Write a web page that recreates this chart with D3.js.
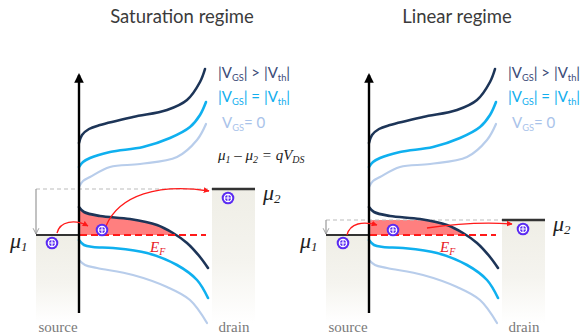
<!DOCTYPE html>
<html>
<head>
<meta charset="utf-8">
<script src="https://cdn.jsdelivr.net/npm/d3@7"></script>
<style>
  body { margin: 0; background: #fff; }
  svg { display: block; }
</style>
</head>
<body>
<svg id="chart" width="585" height="335"></svg>
<script>
// panel titles
const titles = ['Saturation regime', 'Linear regime'];

// band edges: [position along channel, energy above mu1]
const darkUpper = [[0, 92], [3, 100], [10, 106], [21, 110], [54, 118], [88, 125], [108, 135], [121, 153], [126, 166]];
const cyanUpper = [[0, 68], [4, 73], [11, 77], [31, 83], [64, 88], [91, 97], [111, 108], [121, 120], [127, 133]];
const lightUpper = [[0, 48], [4, 54], [11, 58], [31, 68], [61, 71], [98, 78], [118, 95], [127, 111]];
const darkLower = [[0, 28], [5, 23], [21, 19], [51, 16], [78, 10], [94, 2], [108, -8], [121, -22], [129, -33]];
const cyanLower = [[0, -5], [5, -10], [14, -12], [34, -13], [68, -18], [98, -30], [118, -45], [129, -63]];
const lightLower = [[0, -25], [6, -30], [18, -33], [54, -40], [88, -52], [111, -65], [128, -88]];

// drain level mu2 for each panel (mu1 = 0)
const muLevels = [46, 15];

// hole paths (cubic control points) and hole positions per panel
const sourceArrows = [[[-22, 2], [-19, 14], [-4, 16], [9, 9]], [[-22, 0], [-19, 12], [-6, 14], [8, 10]]];
const channelArrows = [[[27, 9], [40, 40], [80, 52], [130, 44]], [[58, 7], [85, 11], [115, 13], [143, 11]]];
const holes = [[[-27, -8], [23, 5], [149, 37]], [[-26, -8], [24, 5], [154, 6]]];

const svg = d3.select('#chart');
const y = d3.scaleLinear().domain([-80, 160]).range([315, 75]);

const defs = svg.append('defs');
const grad = defs.append('linearGradient').attr('id', 'contact')
  .attr('x1', 0).attr('y1', 0).attr('x2', 0).attr('y2', 1);
grad.append('stop').attr('offset', '0%').attr('stop-color', '#efeee6');
grad.append('stop').attr('offset', '55%').attr('stop-color', '#f5f4ef');
grad.append('stop').attr('offset', '100%').attr('stop-color', '#ffffff');

defs.append('marker').attr('id', 'redhead')
  .attr('viewBox', '0 0 10 10').attr('refX', 9).attr('refY', 5)
  .attr('markerWidth', 4.5).attr('markerHeight', 4.5).attr('orient', 'auto')
  .append('path').attr('d', 'M0,0L10,5L0,10z').attr('fill', '#ff1a1a');
defs.append('marker').attr('id', 'grayhead')
  .attr('viewBox', '0 0 10 10').attr('refX', 9).attr('refY', 5)
  .attr('markerWidth', 6).attr('markerHeight', 6).attr('orient', 'auto')
  .append('path').attr('d', 'M1,1L9,5L1,9').attr('fill', 'none').attr('stroke', '#999').attr('stroke-width', 1.3);
defs.append('marker').attr('id', 'blackhead')
  .attr('viewBox', '0 0 10 10').attr('refX', 8).attr('refY', 5)
  .attr('markerWidth', 4).attr('markerHeight', 4).attr('orient', 'auto')
  .append('path').attr('d', 'M0,0L10,5L0,10z').attr('fill', '#000');

const layout = [
  { axisX: 79, titleX: 182 },
  { axisX: 369, titleX: 457 }
];

function addHole(g, cx, cy) {
  const h = g.append('g').attr('transform', 'translate(' + cx + ',' + cy + ')');
  h.append('circle').attr('r', 6.3).attr('fill', '#5a2bf2');
  h.append('circle').attr('r', 3.7).attr('fill', 'none').attr('stroke', '#fff').attr('stroke-width', 1.2);
  h.append('path').attr('d', 'M-3.7,0H3.7M0,-3.7V3.7').attr('stroke', '#fff').attr('stroke-width', 1.2);
}

function subLabel(g, px, py, parts, color, size) {
  const t = g.append('text').attr('x', px).attr('y', py)
    .attr('font-family', 'Lato, "Open Sans", sans-serif').attr('font-size', size).attr('fill', color);
  parts.forEach(function (p) {
    t.append('tspan').text(p[0])
      .attr('font-size', p[1] ? size * 0.62 : size)
      .attr('dy', p[1] ? 3 : (p[2] ? -3 : 0));
  });
  return t;
}

titles.forEach(function (title, i) {
  const L = layout[i];
  const x = d3.scaleLinear().domain([0, 130]).range([L.axisX, L.axisX + 130]);
  const g = svg.append('g');
  const mu2 = muLevels[i];
  const smooth = d3.curveCatmullRom.alpha(0.5);

  const line = d3.line().x(function (d) { return x(d[0]); }).y(function (d) { return y(d[1]); })
    .curve(smooth);

  // title
  g.append('text').attr('x', L.titleX).attr('y', 23).attr('text-anchor', 'middle')
    .attr('font-family', 'Lato, "Open Sans", sans-serif').attr('font-size', 18.5)
    .attr('fill', '#3b3b3b').text(title);

  // source and drain contacts
  g.append('rect').attr('x', x(-43)).attr('y', y(0)).attr('width', x(0) - x(-43))
    .attr('height', y(-88) - y(0)).attr('fill', 'url(#contact)');
  g.append('rect').attr('x', x(133)).attr('y', y(mu2)).attr('width', x(176) - x(133))
    .attr('height', y(-88) - y(mu2)).attr('fill', 'url(#contact)');

  // carriers in channel between EF and drain level
  const clipId = 'clip' + i;
  defs.append('clipPath').attr('id', clipId).append('rect')
    .attr('x', x(0)).attr('y', y(mu2)).attr('width', x(130) - x(0)).attr('height', y(0) - y(mu2));
  g.append('path').datum(darkLower)
    .attr('d', d3.area().x(function (d) { return x(d[0]); }).y0(y(0)).y1(function (d) { return y(d[1]); })
      .curve(smooth))
    .attr('fill', '#ff7f7f').attr('clip-path', 'url(#' + clipId + ')');

  // gray reference of mu2 and drop arrow
  g.append('line').attr('x1', x(-43)).attr('x2', x(133)).attr('y1', y(mu2)).attr('y2', y(mu2))
    .attr('stroke', '#bbb').attr('stroke-width', 1).attr('stroke-dasharray', '4,3');
  g.append('line').attr('x1', x(-43)).attr('x2', x(-43)).attr('y1', y(mu2)).attr('y2', y(1))
    .attr('stroke', '#999').attr('stroke-width', 1.2).attr('marker-end', 'url(#grayhead)');

  // band curves
  [[lightUpper, '#b8cdeb', 2.2], [lightLower, '#b8cdeb', 2.2],
   [cyanUpper, '#0fb0ef', 2.6], [cyanLower, '#0fb0ef', 2.6],
   [darkUpper, '#1d3558', 2.6], [darkLower, '#1d3558', 2.6]].forEach(function (c) {
    g.append('path').datum(c[0]).attr('d', line).attr('fill', 'none')
      .attr('stroke', c[1]).attr('stroke-width', c[2]).attr('stroke-linecap', 'round');
  });

  // Fermi level
  g.append('line').attr('x1', x(1)).attr('x2', x(127)).attr('y1', y(0)).attr('y2', y(0))
    .attr('stroke', '#ff1a1a').attr('stroke-width', 2).attr('stroke-dasharray', '7,4');

  // contact levels
  g.append('line').attr('x1', x(-43)).attr('x2', x(0)).attr('y1', y(0)).attr('y2', y(0))
    .attr('stroke', '#333').attr('stroke-width', 2.2);
  g.append('line').attr('x1', x(133)).attr('x2', x(176)).attr('y1', y(mu2)).attr('y2', y(mu2))
    .attr('stroke', '#333').attr('stroke-width', 2.4);

  // energy axis
  g.append('line').attr('x1', x(0)).attr('x2', x(0)).attr('y1', y(-78)).attr('y2', y(160))
    .attr('stroke', '#000').attr('stroke-width', 2.4).attr('marker-end', 'url(#blackhead)');

  // hole paths
  [sourceArrows[i], channelArrows[i]].forEach(function (a) {
    const p = d3.path();
    p.moveTo(x(a[0][0]), y(a[0][1]));
    p.bezierCurveTo(x(a[1][0]), y(a[1][1]), x(a[2][0]), y(a[2][1]), x(a[3][0]), y(a[3][1]));
    g.append('path').attr('d', p.toString()).attr('fill', 'none')
      .attr('stroke', '#ff1a1a').attr('stroke-width', 1.3).attr('marker-end', 'url(#redhead)');
  });

  holes[i].forEach(function (h) { addHole(g, x(h[0]), y(h[1])); });

  // curve labels
  const lx = L.axisX + 139;
  subLabel(g, lx, 78, [['|V'], ['GS', 1], ['| > |V', 0, 1], ['th', 1], ['|', 0, 1]], '#3b4b78', 15);
  subLabel(g, lx, 102, [['|V'], ['GS', 1], ['| = |V', 0, 1], ['th', 1], ['|', 0, 1]], '#12aeee', 15);
  subLabel(g, lx + 4, 128, [['V'], ['GS', 1], ['= 0', 0, 1]], '#a9c3ea', 15);

  // mu labels
  const serif = '"Liberation Serif", "DejaVu Serif", serif';
  const m1 = g.append('text').attr('x', x(-69)).attr('y', y(-13)).attr('font-family', serif)
    .attr('font-style', 'italic').attr('font-size', 22).attr('fill', '#222');
  m1.append('tspan').text('\u03bc');
  m1.append('tspan').text('1').attr('font-size', 13).attr('dy', 3);
  const m2 = g.append('text').attr('x', x(184)).attr('y', y(mu2 - 11)).attr('font-family', serif)
    .attr('font-style', 'italic').attr('font-size', 22).attr('fill', '#222');
  m2.append('tspan').text('\u03bc');
  m2.append('tspan').text('2').attr('font-size', 13).attr('dy', 3);

  // Fermi label
  const ef = g.append('text').attr('x', x(71)).attr('y', y(-17)).attr('font-family', serif)
    .attr('font-style', 'italic').attr('font-size', 15).attr('fill', '#e8201f');
  ef.append('tspan').text('E');
  ef.append('tspan').text('F').attr('font-size', 10).attr('dy', 3);

  // contact names
  g.append('text').attr('x', x(-21)).attr('y', 332).attr('text-anchor', 'middle')
    .attr('font-family', serif).attr('font-size', 15).attr('fill', '#7a7a7a').text('source');
  g.append('text').attr('x', x(155)).attr('y', 332).attr('text-anchor', 'middle')
    .attr('font-family', serif).attr('font-size', 15).attr('fill', '#7a7a7a').text('drain');

  if (i === 0) {
    const eq = g.append('text').attr('x', L.axisX + 139).attr('y', 160).attr('font-family', serif)
      .attr('font-style', 'italic').attr('font-size', 15).attr('fill', '#222');
    eq.append('tspan').text('\u03bc');
    eq.append('tspan').text('1').attr('font-size', 10).attr('dy', 3);
    eq.append('tspan').text(' \u2013 \u03bc').attr('dy', -3);
    eq.append('tspan').text('2').attr('font-size', 10).attr('dy', 3);
    eq.append('tspan').text(' = qV').attr('dy', -3);
    eq.append('tspan').text('DS').attr('font-size', 10).attr('dy', 3);
  }
});
</script>
</body>
</html>
